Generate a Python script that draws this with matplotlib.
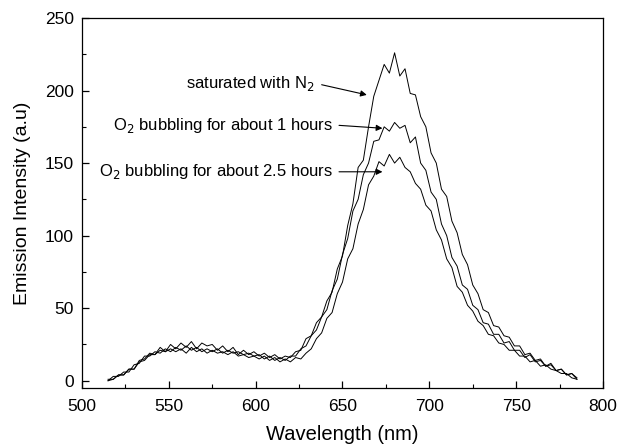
import numpy as np
import matplotlib
matplotlib.use("Agg")
import matplotlib.pyplot as plt

plt.rcParams['font.family'] = ['Liberation Sans', 'DejaVu Sans']

# wavelength grid (nm)
wavelength = np.arange(515, 786, 3)

n2_saturated = [0, 1, 4, 4, 8, 8, 14, 15, 19, 18,
                23, 20, 25, 22, 26, 23, 27, 22, 26, 24,
                25, 21, 24, 20, 23, 18, 21, 18, 20, 17,
                19, 16, 18, 15, 17, 16, 20, 21, 29, 31,
                40, 44, 55, 61, 77, 86, 107, 122, 147, 152,
                175, 196, 207, 218, 212, 226, 210, 215, 198, 197,
                182, 175, 157, 150, 132, 127, 110, 102, 87, 80,
                66, 60, 49, 47, 38, 37, 31, 30, 24, 24,
                18, 19, 14, 15, 10, 12, 7, 8, 4, 5,
                1]

o2_1h = [0, 3, 3, 6, 6, 11, 12, 17, 17, 20,
         19, 22, 20, 23, 21, 24, 21, 23, 20, 22,
         20, 22, 19, 21, 19, 20, 18, 19, 17, 18,
         15, 17, 14, 16, 14, 17, 17, 22, 24, 31,
         35, 44, 49, 62, 70, 87, 98, 117, 125, 142,
         150, 165, 166, 175, 172, 178, 174, 176, 164, 168,
         150, 145, 130, 125, 108, 100, 85, 79, 66, 63,
         52, 49, 40, 39, 32, 32, 26, 27, 21, 21,
         16, 18, 13, 14, 10, 11, 7, 8, 4, 5,
         2]

o2_2_5h = [1, 1, 4, 4, 8, 8, 13, 14, 18, 18,
           21, 20, 22, 20, 22, 19, 23, 20, 22, 19,
           21, 19, 20, 18, 20, 17, 18, 16, 17, 15,
           17, 14, 16, 13, 15, 13, 16, 15, 19, 22,
           29, 33, 43, 47, 60, 68, 84, 91, 108, 118,
           135, 141, 151, 148, 156, 150, 154, 147, 144, 136,
           132, 121, 117, 104, 97, 84, 78, 65, 61, 52,
           48, 41, 38, 32, 31, 26, 25, 21, 21, 17,
           17, 13, 14, 10, 11, 8, 7, 5, 5, 2,
           1]

labels = ["saturated with N$_2$",
          "O$_2$ bubbling for about 1 hours",
          "O$_2$ bubbling for about 2.5 hours"]
label_pos = [(634, 205), (644.5, 176), (644.5, 144)]
arrow_tips = [(664, 197), (673, 174), (673, 144)]
arrow_tails = [(638, 204), (648, 176), (648, 144)]

fig = plt.figure(figsize=(6.17, 4.45), dpi=100)
ax = fig.add_axes([0.1329, 0.1281, 0.8444, 0.8315])

for series in (n2_saturated, o2_1h, o2_2_5h):
    ax.plot(wavelength, series, color='black', lw=0.7)

for lab, pos, tip, tail in zip(labels, label_pos, arrow_tips, arrow_tails):
    ax.text(pos[0], pos[1], lab, ha='right', va='center', fontsize=12)
    ax.annotate('', xy=tip, xytext=tail,
                arrowprops=dict(arrowstyle='-|>', color='black', lw=0.8,
                                mutation_scale=9, shrinkA=0, shrinkB=0))

ax.set_xlim(500, 800)
ax.set_ylim(-5, 250)
ax.set_xticks([500, 550, 600, 650, 700, 750, 800])
ax.set_xticks(np.arange(525, 800, 50), minor=True)
ax.set_yticks([0, 50, 100, 150, 200, 250])
ax.set_yticks(np.arange(25, 250, 50), minor=True)
ax.tick_params(which='both', direction='in', labelsize=12.5)
ax.tick_params(which='major', length=5, width=0.9)
ax.tick_params(which='minor', length=3, width=0.8)
ax.tick_params(axis='x', pad=8)
ax.tick_params(axis='y', pad=6)
ax.set_xlabel("Wavelength (nm)", fontsize=14.5, labelpad=8)
ax.set_ylabel("Emission Intensity (a.u)", fontsize=14, labelpad=10)
for s in ax.spines.values():
    s.set_linewidth(0.9)

fig.savefig("out.png", dpi=100)
